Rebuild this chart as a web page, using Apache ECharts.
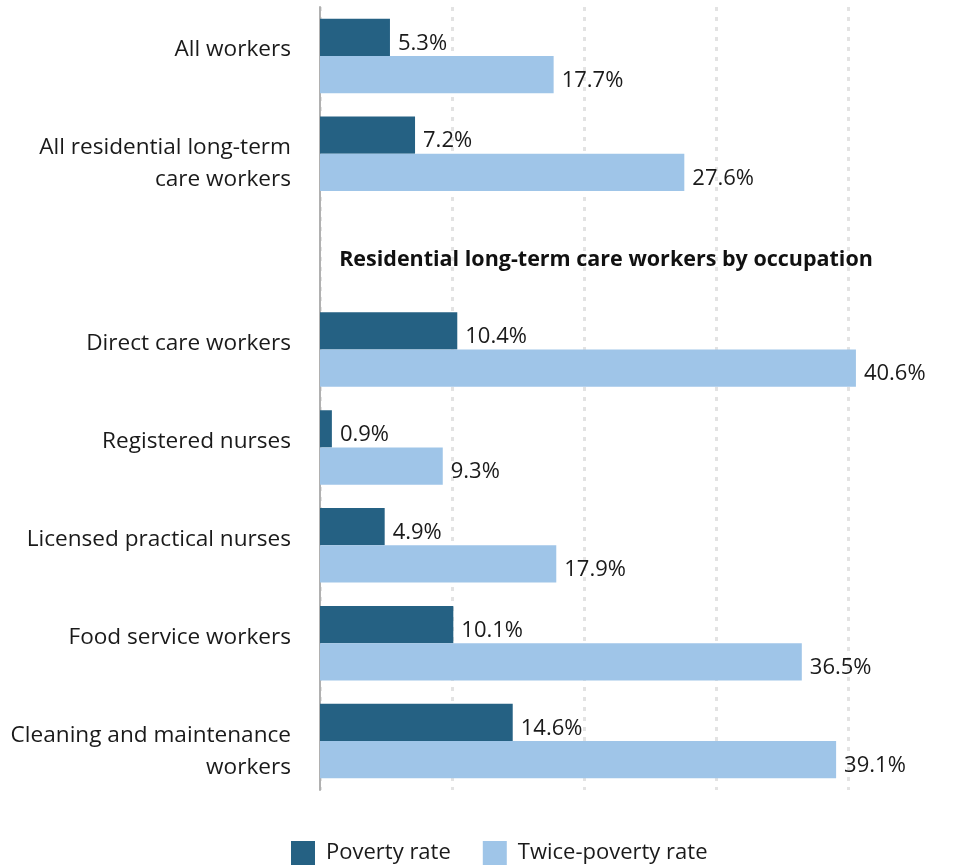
<!DOCTYPE html>
<html>
<head>
<meta charset="utf-8">
<script src="https://cdn.jsdelivr.net/npm/echarts@6/dist/echarts.min.js"></script>
<style>
  html, body { margin: 0; padding: 0; background: #fff; }
  #chart { width: 974px; height: 867px; }
</style>
</head>
<body>
<div id="chart"></div>
<script>
// Row labels (the empty row carries the occupation section heading)
const categories = [
  'All workers',
  'All residential long-term\ncare workers',
  '',
  'Direct care workers',
  'Registered nurses',
  'Licensed practical nurses',
  'Food service workers',
  'Cleaning and maintenance\nworkers'
];
const povertyRate = [5.3, 7.2, null, 10.4, 0.9, 4.9, 10.1, 14.6];
const twicePovertyRate = [17.7, 27.6, null, 40.6, 9.3, 17.9, 36.5, 39.1];
const seriesNames = ['Poverty rate', 'Twice-poverty rate'];
const sectionHeading = 'Residential long-term care workers by occupation';

const FONT = '"Open Sans", Lato, sans-serif';
const TEXT = '#1a1a1a';

const chart = echarts.init(document.getElementById('chart'), null, { renderer: 'canvas' });

const valueLabel = {
  show: true,
  position: 'right',
  distance: 8,
  offset: [0, 6],
  color: TEXT,
  fontFamily: FONT,
  fontSize: 22,
  formatter: p => p.value == null ? '' : p.value.toFixed(1) + '%'
};

chart.setOption({
  animation: false,
  // the 0–50 scale runs slightly past the right edge; only 0–40 gridlines are visible
  grid: { left: 320, top: 7, width: 660, bottom: 77, containLabel: false, outerBoundsMode: 'none' },
  xAxis: {
    type: 'value',
    min: 0,
    max: 50,
    interval: 10,
    axisLabel: { show: false },
    axisLine: { show: false },
    axisTick: { show: false },
    splitLine: {
      show: true,
      lineStyle: { color: '#e3e3e3', width: 3, type: [4, 6] }
    }
  },
  yAxis: {
    type: 'category',
    inverse: true,
    data: categories,
    axisLine: { show: true, lineStyle: { color: '#b0b0b0', width: 2 } },
    axisTick: { show: false },
    axisLabel: {
      interval: 0,
      margin: 29,
      color: TEXT,
      fontFamily: FONT,
      fontSize: 22.6,
      lineHeight: 32,
      align: 'right',
      // first line sits a little above the row centre, extra lines run below
      verticalAlign: 'top',
      padding: [-22, 0, 0, 0]
    }
  },
  legend: {
    left: 286,
    top: 836,
    itemWidth: 24,
    itemHeight: 24,
    itemGap: 32,
    icon: 'rect',
    textStyle: { color: TEXT, fontFamily: FONT, fontSize: 22, padding: [0, 0, 0, 6] },
    data: seriesNames
  },
  graphic: [{
    type: 'text',
    z: 100,
    x: 606,
    y: 260,
    style: {
      text: sectionHeading,
      fill: '#111',
      font: 'bold 21.5px ' + FONT,
      textAlign: 'center',
      textVerticalAlign: 'middle'
    }
  }],
  series: [
    {
      name: seriesNames[0],
      type: 'bar',
      data: povertyRate,
      itemStyle: { color: '#256183' },
      barGap: '0%',
      barCategoryGap: '24%',
      label: valueLabel
    },
    {
      name: seriesNames[1],
      type: 'bar',
      data: twicePovertyRate,
      itemStyle: { color: '#9fc5e8' },
      barGap: '0%',
      barCategoryGap: '24%',
      label: valueLabel
    }
  ]
});
</script>
</body>
</html>
